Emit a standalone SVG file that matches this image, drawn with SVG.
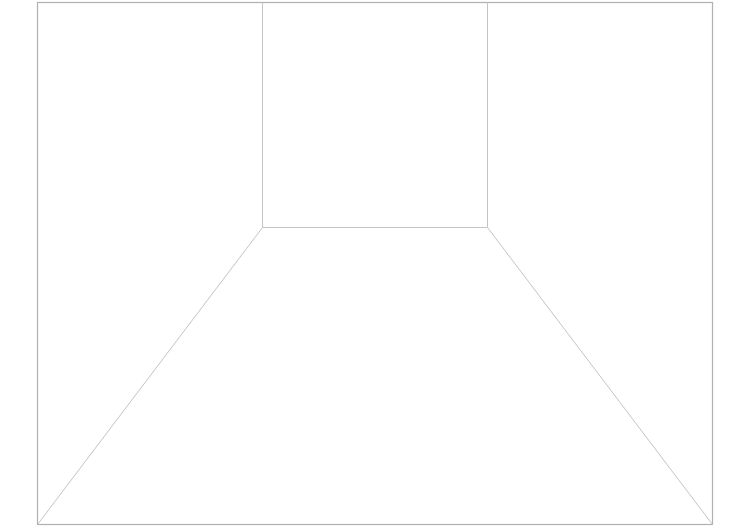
<svg xmlns="http://www.w3.org/2000/svg" width="750" height="527" viewBox="0 0 750 527">
<style>
.frame{fill:none;stroke:#b0b0b0;stroke-width:1.2}
.edge{fill:none;stroke:#c4c4c4;stroke-width:1}
</style>
<rect width="750" height="527" fill="#ffffff"/>
<rect class="frame" x="37.5" y="2.5" width="675" height="522"/>
<g id="room">
<polyline class="edge" points="262.5,2.5 262.5,227.5 487.5,227.5 487.5,2.5"/>
<line class="edge" x1="262.5" y1="227.5" x2="37.5" y2="524.5"/>
<line class="edge" x1="487.5" y1="227.5" x2="712.5" y2="524.5"/>
</g>
</svg>
